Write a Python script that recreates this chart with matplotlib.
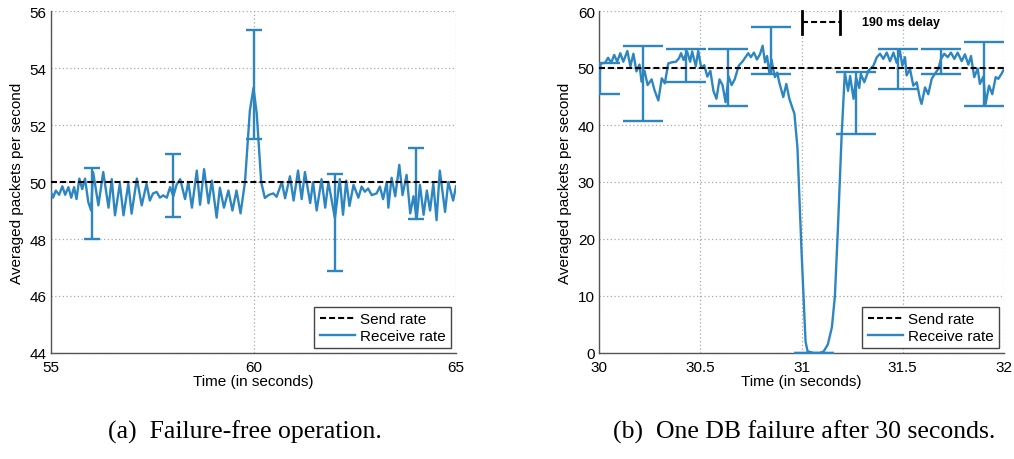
import numpy as np
import matplotlib
matplotlib.use("Agg")
import matplotlib.pyplot as plt

# ---------------- data: (a) failure-free operation ----------------
left_t = [55.00, 55.05, 55.12, 55.20, 55.28, 55.35, 55.43, 55.50, 55.57, 55.63,
          55.70, 55.77, 55.84, 55.92, 55.99, 56.04, 56.17, 56.29, 56.42, 56.50,
          56.58, 56.70, 56.79, 56.91, 56.99, 57.12, 57.24, 57.36, 57.44, 57.52,
          57.61, 57.69, 57.77, 57.86, 57.94, 58.02, 58.10, 58.19, 58.31, 58.39,
          58.48, 58.60, 58.68, 58.78, 58.89, 58.97, 59.09, 59.17, 59.27, 59.38,
          59.48, 59.58, 59.68, 59.79, 59.91, 60.00, 60.08, 60.19, 60.28, 60.38,
          60.49, 60.57, 60.70, 60.78, 60.90, 60.99, 61.10, 61.19, 61.27, 61.40,
          61.47, 61.56, 61.68, 61.77, 61.85, 62.01, 62.13, 62.21, 62.29, 62.37,
          62.47, 62.59, 62.67, 62.75, 62.83, 62.92, 63.04, 63.12, 63.20, 63.29,
          63.33, 63.41, 63.50, 63.60, 63.68, 63.78, 63.87, 63.95, 64.03, 64.11,
          64.20, 64.28, 64.36, 64.44, 64.52, 64.60, 64.73, 64.81, 64.93, 65.00]
left_v = [49.65, 49.45, 49.70, 49.55, 49.85, 49.55, 49.82, 49.45, 49.82, 49.40,
          50.12, 49.75, 50.12, 49.30, 49.00, 50.35, 49.18, 50.35, 49.10, 50.10,
          48.83, 49.94, 48.83, 49.94, 48.89, 50.12, 49.18, 49.94, 49.35, 49.60,
          49.65, 49.45, 49.53, 49.45, 49.82, 49.50, 49.90, 50.10, 49.40, 50.00,
          49.10, 50.40, 49.20, 50.45, 49.25, 50.05, 48.75, 49.80, 49.10, 49.70,
          49.00, 49.70, 48.90, 50.00, 52.50, 53.30, 52.40, 50.00, 49.44, 49.55,
          49.60, 49.48, 50.00, 49.43, 50.20, 49.35, 50.40, 49.40, 50.35, 49.26,
          50.00, 49.00, 50.10, 49.10, 50.00, 48.73, 50.10, 48.85, 50.05, 49.16,
          49.90, 49.45, 49.84, 49.66, 49.77, 49.54, 49.60, 49.84, 49.40, 50.00,
          49.10, 50.15, 49.50, 50.60, 49.54, 50.25, 48.90, 49.50, 48.70, 49.90,
          48.85, 49.70, 49.00, 49.95, 48.66, 50.40, 48.95, 50.00, 49.35, 49.85]
left_err_t = [56, 58, 60, 62, 64]
left_err_mean = [49.24, 49.87, 53.42, 48.59, 49.94]
left_err_dev = [1.24, 1.10, 1.90, 1.70, 1.25]

# ---------------- data: (b) one DB failure ----------------
right_t = [30.000, 30.008, 30.030, 30.045, 30.060, 30.075, 30.090, 30.105, 30.120, 30.140,
           30.155, 30.170, 30.185, 30.200, 30.210, 30.225, 30.240, 30.260, 30.275, 30.293,
           30.310, 30.325, 30.342, 30.360, 30.380, 30.395, 30.405, 30.418, 30.435, 30.450,
           30.460, 30.478, 30.490, 30.505, 30.520, 30.535, 30.550, 30.565, 30.580, 30.595,
           30.610, 30.625, 30.640, 30.655, 30.670, 30.690, 30.710, 30.737, 30.750, 30.765,
           30.780, 30.795, 30.808, 30.820, 30.830, 30.841, 30.852, 30.860, 30.869, 30.880,
           30.890, 30.910, 30.925, 30.940, 30.955, 30.965, 30.980, 31.000, 31.020, 31.030,
           31.060, 31.090, 31.110, 31.130, 31.150, 31.165, 31.180, 31.198, 31.214, 31.230,
           31.240, 31.257, 31.270, 31.285, 31.293, 31.310, 31.330, 31.355, 31.372, 31.388,
           31.404, 31.421, 31.437, 31.454, 31.470, 31.486, 31.498, 31.511, 31.519, 31.536,
           31.552, 31.569, 31.585, 31.593, 31.610, 31.626, 31.643, 31.659, 31.675, 31.689,
           31.705, 31.722, 31.738, 31.755, 31.771, 31.791, 31.807, 31.824, 31.837, 31.853,
           31.870, 31.881, 31.898, 31.909, 31.926, 31.942, 31.959, 31.972, 31.988, 32.000]
right_v = [47.5, 50.8, 50.9, 51.8, 50.9, 52.3, 51.1, 52.6, 51.1, 53.0,
           50.3, 52.5, 49.4, 50.6, 47.6, 49.5, 47.0, 48.0, 46.0, 44.3,
           48.2, 47.3, 50.8, 51.0, 51.1, 51.7, 52.6, 51.4, 52.9, 51.1,
           52.9, 50.3, 53.0, 50.0, 50.5, 48.5, 49.5, 46.0, 44.6, 48.0,
           47.0, 44.0, 48.5, 47.0, 48.0, 50.4, 51.2, 52.6, 51.9, 52.7,
           51.5, 52.4, 53.9, 51.0, 52.1, 49.2, 51.5, 49.8, 48.4, 49.2,
           47.5, 44.9, 47.2, 44.6, 43.0, 42.0, 36.0, 18.0, 2.0, 0.3,
           0.0, 0.0, 0.3, 1.5, 4.5, 10.0, 22.0, 38.0, 49.2, 46.0,
           48.6, 44.6, 48.3, 46.5, 49.0, 47.5, 49.5, 50.4, 51.9, 52.5,
           51.6, 52.7, 51.2, 52.7, 50.9, 53.0, 50.4, 51.9, 48.7, 49.8,
           46.9, 47.5, 44.6, 43.7, 46.6, 45.4, 48.1, 49.0, 49.8, 51.6,
           52.5, 51.9, 52.7, 51.6, 52.7, 51.2, 52.4, 50.6, 52.1, 48.4,
           49.9, 47.2, 48.5, 43.7, 46.9, 45.4, 48.4, 48.1, 49.0, 49.8]
right_err_t = [30.006, 30.219, 30.430, 30.635, 30.848, 31.060, 31.269, 31.475, 31.687, 31.900]
right_err_mean = [48.10, 47.28, 50.42, 48.37, 53.03, 0.00, 43.87, 49.82, 51.12, 48.95]
right_err_dev = [2.70, 6.58, 2.92, 4.97, 4.08, 0.00, 5.37, 3.52, 2.22, 5.55]

send_rate = 50
delay_start, delay_end = 31.0, 31.19
delay_label = "190 ms delay"

left_xticks = [55, 60, 65]
left_yticks = [44, 46, 48, 50, 52, 54, 56]
right_xticks = [30, 30.5, 31, 31.5, 32]
right_xticklabels = ["30", "30.5", "31", "31.5", "32"]
right_yticks = [0, 10, 20, 30, 40, 50, 60]

captions = ["(a)  Failure-free operation.", "(b)  One DB failure after 30 seconds."]

# ---------------- styling ----------------
BLUE = "#2e86c1"
SANS = ["Liberation Sans", "DejaVu Sans"]
plt.rcParams["font.family"] = SANS

fig = plt.figure(figsize=(10.14, 4.6), dpi=100)
ax1 = fig.add_axes([51 / 1014, 106 / 460, 405 / 1014, 342 / 460])
ax2 = fig.add_axes([599 / 1014, 106 / 460, 405 / 1014, 342 / 460])


def style(ax, xlim, ylim, xt, yt, xtl=None):
    ax.set_xlim(*xlim)
    ax.set_ylim(*ylim)
    ax.set_xticks(xt)
    if xtl is not None:
        ax.set_xticklabels(xtl)
    ax.set_yticks(yt)
    ax.grid(True, linestyle=(0, (1, 2)), color="#a8a8a8", linewidth=0.9)
    ax.set_axisbelow(True)
    for s in ("top", "right"):
        ax.spines[s].set_visible(False)
    for s in ("left", "bottom"):
        ax.spines[s].set_color("#555555")
        ax.spines[s].set_linewidth(1.0)
    ax.tick_params(direction="in", length=0, labelsize=11, pad=3, colors="black")
    ax.tick_params(axis="x", pad=5)
    ax.set_xlabel("Time (in seconds)", fontsize=11, labelpad=0)
    ax.set_ylabel("Averaged packets per second", fontsize=11, labelpad=4)


def draw(ax, t, v, et, em, ed, cap):
    ax.axhline(send_rate, color="black", linestyle="--", dashes=(2.9, 1.45),
               linewidth=1.5, label="Send rate", zorder=4)
    ax.plot(t, v, color=BLUE, linewidth=1.7, label="Receive rate", zorder=3)
    ax.errorbar(et, em, yerr=ed, fmt="none", ecolor=BLUE, elinewidth=1.7,
                capsize=cap, capthick=1.7, zorder=3, clip_on=True)
    leg = ax.legend(loc="lower right", fontsize=11, frameon=True, fancybox=False,
                    framealpha=1, edgecolor="#444444", borderaxespad=0.3,
                    handlelength=2.3, handletextpad=0.35, labelspacing=0.2,
                    borderpad=0.35)
    leg.get_frame().set_linewidth(1.0)


style(ax1, (55, 65), (44, 56), left_xticks, left_yticks)
draw(ax1, left_t, left_v, left_err_t, left_err_mean, left_err_dev, 5.8)

style(ax2, (30, 32), (0, 60), right_xticks, right_yticks, right_xticklabels)
draw(ax2, right_t, right_v, right_err_t, right_err_mean, right_err_dev, 14.4)

# delay annotation
ax2.plot([delay_start, delay_start], [56, 60], color="black", linewidth=2, clip_on=False, zorder=5)
ax2.plot([delay_end, delay_end], [56, 60], color="black", linewidth=2, clip_on=False, zorder=5)
ax2.plot([delay_start, delay_end], [58, 58], color="black", linestyle="--",
         dashes=(2.9, 1.45), linewidth=1.5, zorder=5)
ax2.text(31.3, 58, delay_label, fontsize=9, fontweight="bold", va="center", ha="left")

# captions
fig.text(245 / 1014, 1 - 432 / 460, captions[0], ha="center", va="center",
         fontsize=18.5, family=["Liberation Serif", "DejaVu Serif"])
fig.text(804 / 1014, 1 - 432 / 460, captions[1], ha="center", va="center",
         fontsize=18.5, family=["Liberation Serif", "DejaVu Serif"])

fig.savefig("out.png", dpi=100)
